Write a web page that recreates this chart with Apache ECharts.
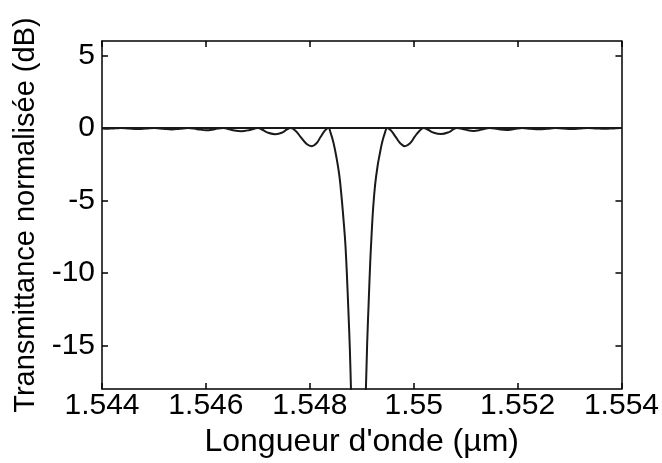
<!DOCTYPE html>
<html>
<head>
<meta charset="utf-8">
<script src="https://cdn.jsdelivr.net/npm/echarts@6/dist/echarts.min.js"></script>
<style>
html,body{margin:0;padding:0;background:#fff;}
#chart{width:662px;height:463px;}
</style>
</head>
<body>
<div id="chart"></div>
<script>
// Wavelength (µm) and normalised transmittance (dB)
const wavelength = [
  1.54400, 1.54406, 1.54415, 1.54426, 1.54436,
  1.54452, 1.54469, 1.54485, 1.54501,
  1.54518, 1.54534, 1.54550, 1.54566,
  1.54583, 1.54601, 1.54617, 1.54633,
  1.54650, 1.54668, 1.54685, 1.54700,
  1.54709, 1.54718, 1.54734, 1.54748, 1.54756, 1.54763,
  1.54773, 1.54783, 1.54794, 1.54804, 1.54813, 1.54821, 1.54829, 1.54836,
  1.548398, 1.548455, 1.548512, 1.548570, 1.548618, 1.548656, 1.548685, 1.548713,
  1.548742, 1.548771, 1.548793, 1.548828, 1.548876, 1.548933, 1.548990, 1.549038,
  1.549080, 1.549105, 1.549134, 1.549163, 1.549187, 1.549220, 1.549258, 1.549306,
  1.549348, 1.549392, 1.549440, 1.549493,
  1.54957, 1.54966, 1.54975, 1.54983, 1.54993, 1.55002, 1.55011, 1.55019,
  1.55027, 1.55037, 1.55053, 1.55068, 1.55076, 1.55083,
  1.55099, 1.55115, 1.55131, 1.55146,
  1.55162, 1.55178, 1.55194, 1.55209,
  1.55225, 1.55241, 1.55257, 1.55272,
  1.55288, 1.55304, 1.55320, 1.55335,
  1.55352, 1.55367, 1.55383, 1.55398, 1.55400
];
const transmittance = [
  -0.04, -0.05, -0.04, -0.02, 0,
  -0.04, -0.07, -0.04, 0,
  -0.05, -0.10, -0.05, 0,
  -0.08, -0.15, -0.08, 0,
  -0.13, -0.22, -0.13, 0,
  -0.12, -0.30, -0.43, -0.30, -0.10, 0,
  -0.20, -0.65, -1.10, -1.25, -1.05, -0.60, -0.18, 0,
  -0.3, -1.0, -2.0, -3.3, -5.0, -6.6, -8.0, -10.0,
  -12.5, -15.2, -18.0, -22.0, -26.0, -28.0, -26.0, -22.0,
  -18.0, -14.8, -12.0, -9.3, -7.55, -5.5, -3.9, -2.6,
  -1.77, -1.0, -0.4, 0,
  -0.20, -0.65, -1.08, -1.25, -1.05, -0.60, -0.20, 0,
  -0.10, -0.30, -0.42, -0.28, -0.10, 0,
  -0.11, -0.20, -0.11, 0,
  -0.07, -0.13, -0.07, 0,
  -0.05, -0.09, -0.05, 0,
  -0.04, -0.07, -0.04, 0,
  -0.03, -0.05, -0.03, 0, 0
];
const refWavelength = [1.544, 1.554];
const refLevel = [0, 0];
const xTicks = [1.544, 1.546, 1.548, 1.550, 1.552, 1.554];
const yTicks = [-15, -10, -5, 0, 5];

const FONT = 'Liberation Sans';

const chart = echarts.init(document.getElementById('chart'), null, {renderer: 'canvas'});
const axisLineStyle = {color: '#000', width: 1.5};
chart.setOption({
  animation: false,
  backgroundColor: '#fff',
  grid: {left: 102, right: 37, top: 41, bottom: 70, containLabel: false},
  xAxis: [{
    type: 'value', min: 1.544, max: 1.554, position: 'bottom',
    name: "Longueur d'onde (µm)", nameLocation: 'middle', nameGap: 28,
    nameTextStyle: {fontFamily: FONT, fontSize: 32, color: '#000'},
    axisLine: {show: true, onZero: false, lineStyle: axisLineStyle},
    axisTick: {show: true, inside: true, length: 6, lineStyle: axisLineStyle, customValues: xTicks},
    axisLabel: {show: true, fontFamily: FONT, fontSize: 30, color: '#000', margin: 2,
      customValues: xTicks, formatter: v => String(Number(v.toFixed(3)))},
    splitLine: {show: false}
  }, {
    type: 'value', min: 1.544, max: 1.554, position: 'top',
    axisLine: {show: true, onZero: false, lineStyle: axisLineStyle},
    axisTick: {show: true, inside: true, length: 6, lineStyle: axisLineStyle, customValues: xTicks},
    axisLabel: {show: false},
    splitLine: {show: false}
  }],
  yAxis: [{
    type: 'value', min: -18, max: 6, position: 'left',
    name: 'Transmittance normalisée (dB)', nameLocation: 'middle', nameGap: 53,
    nameTextStyle: {fontFamily: FONT, fontSize: 29, color: '#000'},
    axisLine: {show: true, onZero: false, lineStyle: axisLineStyle},
    axisTick: {show: true, inside: true, length: 6, lineStyle: axisLineStyle, customValues: yTicks},
    axisLabel: {show: true, fontFamily: FONT, fontSize: 30, color: '#000', margin: 7,
      customValues: yTicks, formatter: v => String(v)},
    splitLine: {show: false}
  }, {
    type: 'value', min: -18, max: 6, position: 'right',
    axisLine: {show: true, onZero: false, lineStyle: axisLineStyle},
    axisTick: {show: true, inside: true, length: 6, lineStyle: axisLineStyle, customValues: yTicks},
    axisLabel: {show: false},
    splitLine: {show: false}
  }],
  series: [{
    type: 'line',
    data: refWavelength.map((x, i) => [x, refLevel[i]]),
    showSymbol: false, symbol: 'none',
    lineStyle: {color: '#1a1a1a', width: 2},
    silent: true, z: 2
  }, {
    type: 'line',
    data: wavelength.map((x, i) => [x, transmittance[i]]),
    showSymbol: false, symbol: 'none', smooth: 0.4, clip: true,
    lineStyle: {color: '#1a1a1a', width: 2},
    silent: true, z: 3
  }]
});
</script>
</body>
</html>
